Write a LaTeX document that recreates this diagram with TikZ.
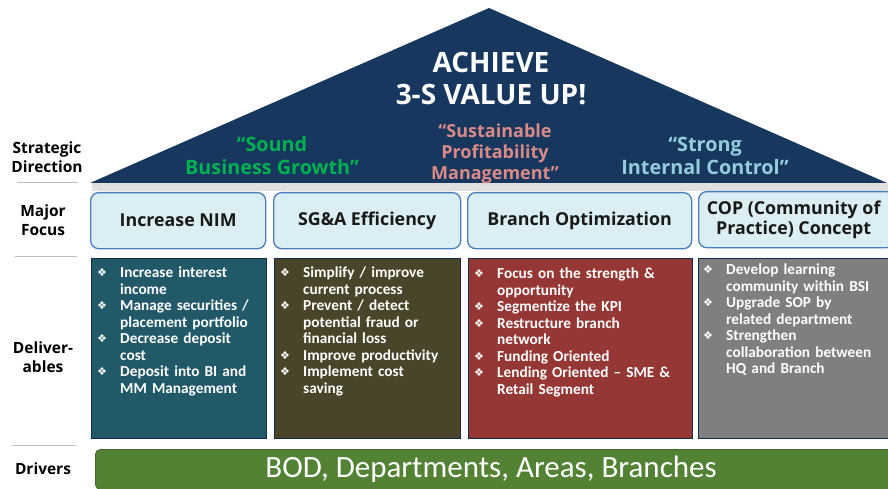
\documentclass[tikz,border=0pt]{standalone}
\usepackage{fontspec}
\setmainfont{Carlito}
\newfontfamily\symfont{DejaVu Sans}
\newfontfamily\hfont{Open Sans}
\definecolor{navy}{HTML}{17375E}
\definecolor{sgreen}{HTML}{00B050}
\definecolor{spink}{HTML}{DA8A87}
\definecolor{scyan}{HTML}{93CDDD}
\definecolor{ffill}{HTML}{DBEEF4}
\definecolor{fdraw}{HTML}{4A7EBB}
\definecolor{dteal}{HTML}{215968}
\definecolor{dbrown}{HTML}{4A452A}
\definecolor{dred}{HTML}{953735}
\definecolor{dgray}{HTML}{7F7F7F}
\definecolor{dgreen}{HTML}{548235}
\definecolor{sepgray}{HTML}{BFBFBF}
\newcommand\itm[1]{\hangindent=23pt\hangafter=1\noindent\makebox[23pt][l]{\symfont\fontsize{11}{11}\selectfont\raisebox{1pt}{❖}}#1\par}
\tikzset{
  lbl/.style={font=\hfont\bfseries\fontsize{15.5}{18.5}\selectfont, align=center, text=black},
  sep/.style={draw=sepgray, line width=1pt},
  focus/.style={draw=fdraw, fill=ffill, line width=1.3pt, rounded corners=8pt, inner sep=0pt, anchor=north west},
  ftext/.style={font=\hfont\bfseries\fontsize{17.8}{20}\selectfont, align=center, text=black!90},
  dbox/.style={draw=navy!80!black, line width=0.8pt, inner sep=0pt, anchor=north west},
  dtext/.style={font=\bfseries\fontsize{15.3}{16.5}\selectfont, text=white, text width=200pt, align=left, inner sep=0pt, anchor=north west},
  quote/.style={font=\hfont\bfseries\fontsize{19.8}{23}\selectfont, align=center},
}
\begin{document}
\begin{tikzpicture}[x=1pt,y=-1pt]
\useasboundingbox (0,0) rectangle (888,489);
% shadow band
\fill[black!12] (92,183) rectangle (888,191);
% roof
\coordinate (apex) at (489,8);
\coordinate (bl) at (90,183);
\coordinate (br) at (887,183);
\fill[navy] (bl) -- (apex) -- (br) -- cycle;
\node[font=\hfont\bfseries\fontsize{28}{32}\selectfont, text=white, align=center] (title) at (491,79) {ACHIEVE\\3-S VALUE UP!};
\node[quote, text=sgreen] (q1) at (272,156) {“Sound\\Business Growth”};
\node[quote, text=spink, font=\hfont\bfseries\fontsize{18}{21}\selectfont] (q2) at (495,154) {“Sustainable\\Profitability\\Management”};
\node[quote, text=scyan] (q3) at (705,155.5) {“Strong\\Internal Control”};
% left labels
\node[lbl] (l1) at (47,157) {Strategic\\Direction};
\node[lbl] (l2) at (43,220) {Major\\Focus};
\node[lbl] (l3) at (43,357) {Deliver-\\ables};
\node[lbl] (l4) at (43,469) {Drivers};
\draw[sep] (17,183) -- (78,183);
\draw[sep] (15,256) -- (77,256);
\draw[sep] (12,445) -- (76,445);
% major focus
\node[focus, minimum width=175pt, minimum height=56pt] (f1) at (90,192) {};
\node[focus, minimum width=187pt, minimum height=56pt] (f2) at (273,192) {};
\node[focus, minimum width=224pt, minimum height=56pt] (f3) at (467,192) {};
\node[focus, minimum width=196pt, minimum height=56pt] (f4) at (698,191) {};
\node[ftext] (ft1) at (f1.center) {Increase NIM};
\node[ftext] (ft2) at (f2.center) {SG\&A Efficiency};
\node[ftext] (ft3) at (f3.center) {Branch Optimization};
\node[ftext] (ft4) at ([xshift=-3pt]f4.center) {COP (Community of\\Practice) Concept};
% deliverables
\node[dbox, fill=dteal, minimum width=175pt, minimum height=180pt] (d1) at (91,258) {};
\node[dbox, fill=dbrown, minimum width=186pt, minimum height=180pt] (d2) at (274,258) {};
\node[dbox, fill=dred, minimum width=224pt, minimum height=180pt] (d3) at (468,258) {};
\node[dbox, fill=dgray, minimum width=196pt, minimum height=180pt] (d4) at (698,258) {};
\node[dtext] (t1) at (97,267) {%
\itm{Increase interest\newline income}
\itm{Manage securities /\newline placement portfolio}
\itm{Decrease deposit\newline cost}
\itm{Deposit into BI and\newline MM Management}};
\node[dtext] (t2) at (280,267) {%
\itm{Simplify / improve\newline current process}
\itm{Prevent / detect\newline potential fraud or\newline financial loss}
\itm{Improve productivity}
\itm{Implement cost\newline saving}};
\node[dtext] (t3) at (474,268) {%
\itm{Focus on the strength \&\newline opportunity}
\itm{Segmentize the KPI}
\itm{Restructure branch\newline network}
\itm{Funding Oriented}
\itm{Lending Oriented – SME \&\newline Retail Segment}};
\node[dtext] (t4) at (703,264) {%
\itm{Develop learning\newline community within BSI}
\itm{Upgrade SOP by\newline related department}
\itm{Strengthen\newline collaboration between\newline HQ and Branch}};
% drivers
\node[draw=dgreen!80!black, fill=dgreen, rounded corners=5pt, line width=0.8pt, minimum width=800pt, minimum height=40pt, anchor=north west, inner sep=0pt] (drv) at (95,449) {};
\node[font=\fontsize{31}{32}\selectfont, text=white] (drvt) at (491,469) {BOD, Departments, Areas, Branches};
\end{tikzpicture}
\end{document}
